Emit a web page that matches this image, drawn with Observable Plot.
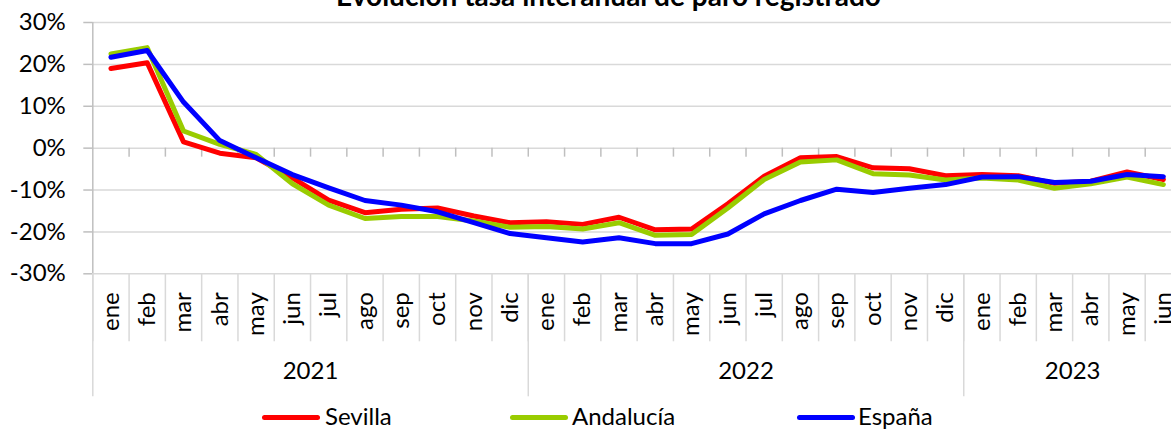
<!DOCTYPE html>
<html><head><meta charset="utf-8">
<script src="https://cdn.jsdelivr.net/npm/d3@7"></script>
<script src="https://cdn.jsdelivr.net/npm/@observablehq/plot@0.6"></script>
<style>
html,body{margin:0;padding:0;background:#fff;overflow:hidden;width:1171px;height:429px;}
#wrap{position:relative;width:1171px;height:429px;overflow:hidden;font-family:Lato,sans-serif;color:#000;}
#chart{position:absolute;left:0;top:0;width:1200px;}
#chart svg{max-width:none !important;}
#title{position:absolute;left:0;width:1217px;top:-19.5px;text-align:center;font-weight:bold;font-size:28px;line-height:28px;white-space:nowrap;}
.lg{position:absolute;top:403.7px;font-size:24px;line-height:24px;white-space:nowrap;}
.sw{position:absolute;height:5px;top:415.2px;width:58px;border-radius:2.5px;}
</style></head>
<body><div id="wrap"><div id="chart"></div><div id="title">Evolución tasa interanual de paro registrado</div><div id="legend"></div></div>
<script>
const monthNames = ["ene","feb","mar","abr","may","jun","jul","ago","sep","oct","nov","dic"];
const years = ["2021","2022","2023"];
const yearCounts = [12, 12, 6];
const seriesNames = ["Sevilla", "Andalucía", "España"];
const seriesColors = ["#ff0000", "#99cc00", "#0000ff"];
const yTicks = [-30, -20, -10, 0, 10, 20, 30];

const sevilla   = [19.0, 20.4, 1.5, -1.2, -2.3, -7.1, -12.4, -15.4, -14.6, -14.3, -16.2, -17.8,
                   -17.6, -18.2, -16.5, -19.5, -19.3, -13.3, -6.7, -2.3, -2.0, -4.7, -4.9, -6.6,
                   -6.3, -6.6, -8.4, -7.9, -5.7, -7.5];
const andalucia = [22.5, 24.0, 4.1, 0.9, -1.5, -8.5, -13.6, -16.8, -16.3, -16.3, -17.4, -18.9,
                   -18.7, -19.3, -17.8, -20.8, -20.6, -14.3, -7.5, -3.3, -2.8, -6.1, -6.4, -7.6,
                   -7.1, -7.6, -9.6, -8.5, -6.9, -8.7];
const espana    = [21.7, 23.3, 11.0, 1.8, -2.3, -6.3, -9.5, -12.5, -13.6, -15.2, -17.8, -20.4,
                   -21.4, -22.4, -21.4, -22.8, -22.8, -20.5, -15.7, -12.5, -9.8, -10.6, -9.6, -8.7,
                   -6.9, -6.8, -8.2, -7.9, -6.3, -6.8];
const seriesValues = [sevilla, andalucia, espana];

const labels = years.flatMap((y, k) => monthNames.slice(0, yearCounts[k]));
const n = labels.length;
const yearStarts = [];
let acc = 0;
for (const c of yearCounts) { yearStarts.push(acc); acc += c; }
const yearCenters = yearStarts.map((s, k) => s + yearCounts[k] / 2);

const lineMarks = seriesValues.map((vals, k) =>
  Plot.line(vals, {x: (d, i) => i + 0.5, y: d => d, stroke: seriesColors[k], strokeWidth: 5,
    strokeLinejoin: "round", strokeLinecap: "round"}));

const chart = Plot.plot({
  width: 1200, height: 400,
  marginLeft: 92.3, marginRight: 19, marginTop: 22, marginBottom: 126.7,
  x: {domain: [0, n]},
  y: {domain: [-30, 30]},
  style: {fontFamily: "Lato, sans-serif", fontSize: "24px", color: "#000", background: "transparent", overflow: "visible", maxWidth: "none"},
  marks: [
    Plot.gridY(yTicks, {stroke: "#d9d9d9", strokeOpacity: 1, strokeWidth: 1.5}),
    Plot.axisY({ticks: yTicks, tickSize: 9, tickPadding: 18, tickFormat: d => d + "%", stroke: "#bfbfbf", strokeWidth: 1.5, label: null, fontSize: 24}),
    Plot.ruleX([0], {stroke: "#bfbfbf", strokeWidth: 1.5}),
    Plot.ruleX(d3.range(1, n), {x: d => d, y1: 0, y2: 0, insetBottom: -9, stroke: "#bfbfbf", strokeWidth: 1.5}),
    Plot.axisX({ticks: d3.range(0, n + 1), tickSize: 68, tickFormat: () => "", stroke: "#d9d9d9", strokeWidth: 1.5, label: null}),
    Plot.axisX({ticks: yearStarts, tickSize: 123, tickFormat: () => "", stroke: "#d9d9d9", strokeWidth: 1.5, label: null}),
    Plot.text(labels, {x: (d, i) => i + 0.5, frameAnchor: "bottom", rotate: -90, textAnchor: "end", lineAnchor: "middle", dy: 18.4, fontSize: 24, fill: "#000"}),
    Plot.text(years, {x: (d, k) => yearCenters[k], frameAnchor: "bottom", dy: 105, fontSize: 24, fill: "#000"}),
    ...lineMarks
  ]
});
document.getElementById("chart").appendChild(chart);

const legendPos = [{sw: 262, tx: 325}, {sw: 510, tx: 572}, {sw: 797, tx: 858}];
const legend = document.getElementById("legend");
seriesNames.forEach((name, k) => {
  const s = document.createElement("div");
  s.className = "sw";
  s.style.left = legendPos[k].sw + "px";
  s.style.background = seriesColors[k];
  legend.appendChild(s);
  const t = document.createElement("div");
  t.className = "lg";
  t.style.left = legendPos[k].tx + "px";
  t.textContent = name;
  legend.appendChild(t);
});
</script>
</body></html>
